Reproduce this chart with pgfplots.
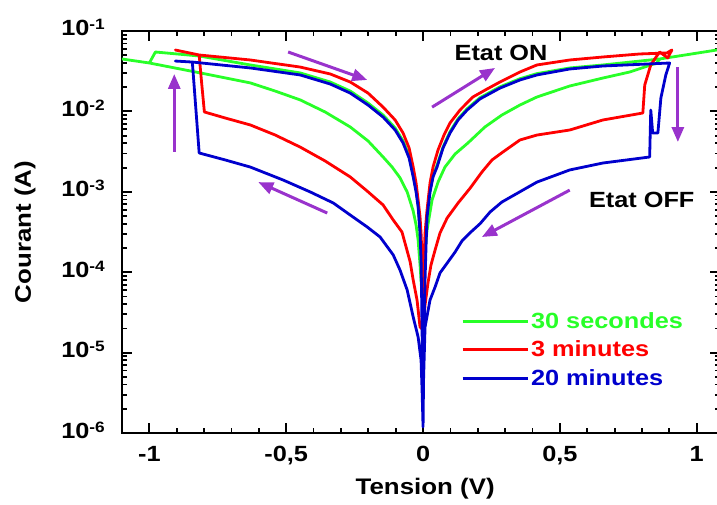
\documentclass[border=0pt]{standalone}
\usepackage{pgfplots}
\pgfplotsset{compat=1.18}
\usepackage{fontspec}
\setmainfont{Liberation Sans}[FakeStretch=1.15]
\usetikzlibrary{arrows.meta}
\definecolor{cg}{RGB}{40,255,40}
\definecolor{cr}{RGB}{255,0,0}
\definecolor{cb}{RGB}{0,0,205}
\definecolor{cp}{RGB}{153,51,204}
\newcommand\tp[1]{10\raisebox{6pt}{\fontsize{15}{15}\selectfont\bfseries #1}}
\begin{document}
\bfseries
\begin{tikzpicture}[font=\bfseries]
\begin{axis}[
  scale only axis, width=598pt, height=402pt,
  xmin=-1.1, xmax=1.085, ymode=log, ymin=1e-6, ymax=1e-1,
  xtick={-1,-0.5,0,0.5,1}, xticklabels={-1,{-0,5},0,{0,5},1},
  minor x tick num=4,
  ytick={1e-6,1e-5,1e-4,1e-3,1e-2,1e-1},
  yticklabels={\tp{-6},\tp{-5},\tp{-4},\tp{-3},\tp{-2},\tp{-1}},
  minor ytick={2e-6,3e-6,4e-6,5e-6,6e-6,7e-6,8e-6,9e-6,2e-5,3e-5,4e-5,5e-5,6e-5,7e-5,8e-5,9e-5,2e-4,3e-4,4e-4,5e-4,6e-4,7e-4,8e-4,9e-4,2e-3,3e-3,4e-3,5e-3,6e-3,7e-3,8e-3,9e-3,2e-2,3e-2,4e-2,5e-2,6e-2,7e-2,8e-2,9e-2},
  tick align=inside, major tick length=10pt, minor tick length=5pt,
  tick style={black, line width=1.8pt},
  axis line style={line width=2.8pt},
  tick label style={font=\fontsize{22}{22}\selectfont\bfseries},
  xticklabel style={anchor=center, yshift=-20pt, text height=16pt, text depth=0pt, inner sep=0pt},
  yticklabel style={anchor=east, xshift=-17pt, yshift=3pt, text height=16pt, text depth=0pt, inner sep=0pt},
  every axis x label/.style={at={(axis description cs:0.507,-0.139)}, anchor=center},
  every axis y label/.style={at={(axis description cs:-0.162,0.5)}, rotate=90, anchor=center},
  label style={font=\fontsize{22.5}{22.5}\selectfont\bfseries},
  xlabel={Tension (V)}, ylabel={Courant (A)},
  no markers,
  every axis plot/.append style={line width=2.8pt, line join=round},
  legend style={draw=none, fill=none, at={(axis description cs:0.567,0.305)}, anchor=north west, row sep=7pt, font=\fontsize{22}{22}\selectfont\bfseries, inner sep=0pt},
  legend image code/.code={\draw[#1] (0pt,0pt) -- (65pt,0pt);},
  legend cell align=left,
]
\addplot[cg] coordinates {(-1.150,4.75e-2) (-1.000,4.00e-2) (-0.814,3.01e-2) (-0.631,2.26e-2) (-0.540,1.79e-2) (-0.449,1.39e-2) (-0.358,9.84e-3) (-0.266,6.40e-3) (-0.201,4.29e-3) (-0.146,2.71e-3) (-0.113,2.03e-3) (-0.084,1.49e-3) (-0.058,9.95e-4) (-0.036,5.77e-4) (-0.0255,3.86e-4) (-0.018,2.51e-4) (-0.011,1.23e-4) (-0.0055,6.37e-5) (0,4.78e-5) (0.0036,1.0e-4) (0.0073,1.89e-4) (0.011,2.6e-4) (0.0146,5.1e-4) (0.0255,1.05e-3) (0.0365,1.6e-3) (0.051,2.13e-3) (0.073,3.6e-3) (0.0985,5.6e-3) (0.128,8.1e-3) (0.161,1.08e-2) (0.208,1.48e-2) (0.281,2.02e-2) (0.354,2.55e-2) (0.416,2.95e-2) (0.536,3.47e-2) (0.657,3.78e-2) (0.865,4.49e-2) (1.073,5.80e-2) (1.175,6.50e-2)};
\addlegendentry{\textcolor{cg}{30 secondes}}
\addplot[cg, forget plot] coordinates {(-1.000,4.00e-2) (-0.978,5.48e-2) (-0.818,4.89e-2) (-0.631,3.78e-2) (-0.449,3.01e-2) (-0.339,2.32e-2) (-0.266,1.79e-2) (-0.201,1.27e-2) (-0.146,9.01e-3) (-0.102,6.22e-3) (-0.073,4.29e-3) (-0.051,2.79e-3) (-0.036,1.62e-3) (-0.0255,1.05e-3) (-0.018,6.86e-4) (-0.011,3.08e-4) (-0.0036,1.06e-4) (0,4.78e-5) (0.0036,1.42e-4) (0.0146,3.35e-4) (0.0328,7.9e-4) (0.0547,1.32e-3) (0.080,2.03e-3) (0.117,2.95e-3) (0.164,4.05e-3) (0.226,6.40e-3) (0.288,9.01e-3) (0.354,1.20e-2) (0.416,1.51e-2) (0.536,2.07e-2) (0.657,2.60e-2) (0.755,3.09e-2) (0.854,4.00e-2) (0.865,4.49e-2)};
\addplot[cr] coordinates {(0,1.91e-5) (0.0018,6.0e-5) (0.0036,1.42e-4) (0.0073,3.08e-4) (0.0146,5.94e-4) (0.0255,1.29e-3) (0.0365,2.03e-3) (0.0547,3.31e-3) (0.0766,5.08e-3) (0.0985,7.18e-3) (0.135,1.04e-2) (0.182,1.51e-2) (0.234,1.90e-2) (0.281,2.32e-2) (0.354,3.09e-2) (0.416,3.78e-2) (0.536,4.36e-2) (0.657,4.75e-2) (0.792,5.18e-2) (0.891,5.33e-2) (0.909,5.80e-2) (0.894,4.62e-2) (0.865,5.48e-2) (0.854,4.89e-2) (0.832,3.78e-2) (0.810,2.13e-2) (0.803,9.55e-3) (0.657,7.82e-3) (0.536,5.87e-3) (0.416,5.08e-3) (0.354,4.41e-3) (0.292,3.13e-3) (0.252,2.49e-3) (0.215,1.76e-3) (0.172,1.11e-3) (0.128,7.26e-4) (0.088,4.72e-4) (0.062,3.08e-4) (0.044,1.89e-4) (0.029,1.23e-4) (0.018,7.34e-5) (0.0073,3.91e-5) (0,1.91e-5) (-0.011,2.08e-5) (-0.022,4.51e-5) (-0.036,8.0e-5) (-0.047,1.34e-4) (-0.062,2.06e-4) (-0.077,3.16e-4) (-0.109,4.46e-4) (-0.146,6.86e-4) (-0.204,1.02e-3) (-0.266,1.53e-3) (-0.358,2.42e-3) (-0.449,3.60e-3) (-0.540,5.08e-3) (-0.631,6.78e-3) (-0.723,8.28e-3) (-0.799,9.84e-3) (-0.810,2.46e-2) (-0.818,5.03e-2) (-0.905,5.80e-2) (-0.818,5.03e-2) (-0.631,4.36e-2) (-0.449,3.56e-2) (-0.339,2.92e-2) (-0.266,2.32e-2) (-0.201,1.69e-2) (-0.146,1.13e-2) (-0.102,7.82e-3) (-0.073,5.38e-3) (-0.051,3.51e-3) (-0.036,2.03e-3) (-0.0255,1.29e-3) (-0.018,7.9e-4) (-0.011,4.86e-4) (-0.0073,3.08e-4) (-0.0036,1.42e-4) (-0.0018,6.0e-5) (0,1.91e-5)};
\addlegendentry{\textcolor{cr}{3 minutes}}
\addplot[cb] coordinates {(0,1.19e-6) (0.0018,8.09e-6) (0.0036,1.91e-5) (0.0073,8.0e-5) (0.011,2.18e-4) (0.0146,4.86e-4) (0.0255,9.95e-4) (0.0365,1.53e-3) (0.051,2.03e-3) (0.073,3.51e-3) (0.0985,5.38e-3) (0.128,7.82e-3) (0.161,1.04e-2) (0.208,1.43e-2) (0.281,1.95e-2) (0.354,2.46e-2) (0.416,2.84e-2) (0.536,3.37e-2) (0.657,3.67e-2) (0.901,4.00e-2) (0.887,2.84e-2) (0.869,1.47e-2) (0.858,5.38e-3) (0.839,5.38e-3) (0.832,1.04e-2) (0.828,2.71e-3) (0.657,2.28e-3) (0.536,1.87e-3) (0.416,1.32e-3) (0.288,7.46e-4) (0.245,5.61e-4) (0.208,4.0e-4) (0.172,3.1e-4) (0.142,2.44e-4) (0.117,1.78e-4) (0.091,1.34e-4) (0.062,9.8e-5) (0.044,6.55e-5) (0.0255,4.51e-5) (0.0073,2.08e-5) (0.0018,4.56e-6) (0,1.19e-6) (-0.0036,3.43e-6) (-0.0073,8.09e-6) (-0.018,1.56e-5) (-0.036,2.77e-5) (-0.058,6.0e-5) (-0.084,1.06e-4) (-0.109,1.64e-4) (-0.157,2.74e-4) (-0.204,3.65e-4) (-0.266,5.14e-4) (-0.328,7.26e-4) (-0.412,9.95e-4) (-0.511,1.40e-3) (-0.631,2.03e-3) (-0.723,2.49e-3) (-0.818,3.04e-3) (-0.843,4.11e-2) (-0.905,4.23e-2) (-0.843,4.11e-2) (-0.631,3.47e-2) (-0.449,2.84e-2) (-0.339,2.19e-2) (-0.266,1.69e-2) (-0.201,1.20e-2) (-0.146,8.51e-3) (-0.102,5.87e-3) (-0.073,4.05e-3) (-0.051,2.63e-3) (-0.036,1.53e-3) (-0.0255,9.95e-4) (-0.018,6.47e-4) (-0.011,3.08e-4) (-0.0073,1.42e-4) (-0.0055,6.0e-5) (-0.0036,1.91e-5) (-0.0018,6.08e-6) (0,1.19e-6)};
\addlegendentry{\textcolor{cb}{20 minutes}}
\begin{scope}[cp, line width=3pt, arrows={-{Triangle[length=15pt,width=12pt]}}]
\draw (axis cs:-0.909,3.13e-3) -- (axis cs:-0.909,2.92e-2);
\draw (axis cs:-0.493,5.48e-2) -- (axis cs:-0.204,2.46e-2);
\draw (axis cs:0.033,1.13e-2) -- (axis cs:0.263,3.47e-2);
\draw (axis cs:0.931,3.56e-2) -- (axis cs:0.931,4.16e-3);
\draw (axis cs:0.536,1.05e-3) -- (axis cs:0.215,2.74e-4);
\draw (axis cs:-0.350,5.44e-4) -- (axis cs:-0.602,1.32e-3);
\end{scope}
\node[font=\fontsize{22}{22}\selectfont\bfseries, anchor=center] at (axis cs:0.285,5.33e-2) {Etat ON};
\node[font=\fontsize{22}{22}\selectfont\bfseries, anchor=center] at (axis cs:0.799,7.9e-4) {Etat OFF};
\end{axis}
\pgfresetboundingbox
\path[use as bounding box] ([shift={(-122pt,-72pt)}]current axis.south west) rectangle ([shift={(595pt,433pt)}]current axis.south west);
\end{tikzpicture}
\end{document}
